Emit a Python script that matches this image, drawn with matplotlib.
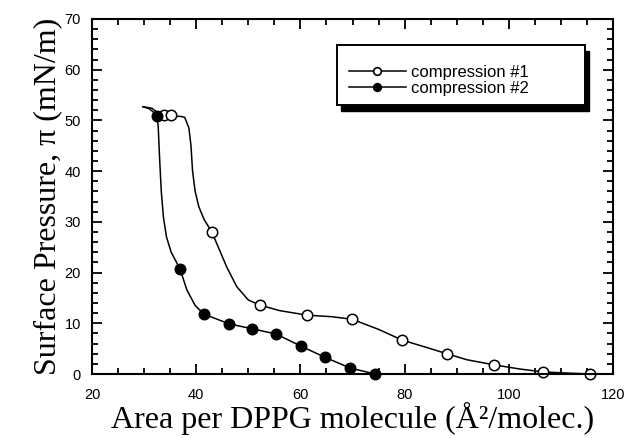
import matplotlib
matplotlib.use("Agg")
import matplotlib.pyplot as plt
from matplotlib.ticker import MultipleLocator
from matplotlib.patches import Rectangle

# Traced curve of compression #1 (open circles)
c1_line_x = [29.8, 31.5, 33.0, 35.0, 37.0, 37.8, 38.6, 39.0, 39.3, 39.8, 40.5, 41.5, 43.0,
             45.9, 47.8, 50.0, 52.2, 56.0, 61.3, 66.0, 69.9, 75.0, 79.5, 84.0, 88.1,
             92.0, 97.2, 102.0, 106.6, 111.0, 115.5]
c1_line_y = [52.7, 52.4, 51.2, 50.8, 50.8, 50.6, 48.5, 45.0, 40.0, 36.0, 33.0, 30.5, 28.0,
             21.0, 17.2, 14.6, 13.6, 12.5, 11.6, 11.3, 10.8, 8.8, 6.7, 5.3, 4.0,
             2.8, 1.8, 1.0, 0.4, 0.2, 0.0]
c1_mark_x = [33.8, 35.2, 43.0, 52.2, 61.3, 69.9, 79.5, 88.1, 97.2, 106.6, 115.5]
c1_mark_y = [51.1, 51.0, 28.0, 13.6, 11.6, 10.8, 6.7, 4.0, 1.8, 0.4, 0.0]

# Traced curve of compression #2 (filled circles)
c2_line_x = [29.8, 31.0, 32.3, 32.7, 33.0, 33.3, 33.7, 34.3, 35.2, 36.9, 38.2, 39.8, 41.5,
             46.3, 50.8, 55.3, 60.1, 64.7, 69.5, 74.3]
c2_line_y = [52.7, 52.3, 51.2, 49.0, 42.0, 36.0, 31.0, 27.0, 24.0, 20.7, 16.6, 13.5, 11.8,
             9.9, 8.9, 7.9, 5.5, 3.3, 1.2, 0.0]
c2_mark_x = [32.4, 36.9, 41.5, 46.3, 50.8, 55.3, 60.1, 64.7, 69.5, 74.3]
c2_mark_y = [50.8, 20.7, 11.8, 9.9, 8.9, 7.9, 5.5, 3.3, 1.2, 0.0]

labels = ["compression #1", "compression #2"]
xlabel = "Area per DPPG molecule (Å²/molec.)"
ylabel = "Surface Pressure, π (mN/m)"

sans = ["Liberation Sans", "DejaVu Sans"]
serif = ["Liberation Serif", "DejaVu Serif"]

fig = plt.figure(figsize=(6.33, 4.38), dpi=100)
ax = fig.add_axes([92 / 633, 1 - 374 / 438, 521 / 633, 355 / 438])

ms = 7.5
ax.plot(c1_line_x, c1_line_y, color="black", lw=1.1, clip_on=False)
ax.plot(c1_mark_x, c1_mark_y, "o", ms=ms, mfc="white", mec="black", mew=1.1, clip_on=False)
ax.plot(c2_line_x, c2_line_y, color="black", lw=1.1, clip_on=False)
ax.plot(c2_mark_x, c2_mark_y, "o", ms=ms, mfc="black", mec="black", mew=1.1, clip_on=False)

# legend box with solid drop shadow
fx0, fx1, fy0, fy1 = 0.470, 0.946, 0.757, 0.927
ax.add_patch(Rectangle((fx0 + 0.008, fy0 - 0.016), fx1 - fx0, fy1 - fy0,
                       transform=ax.transAxes, facecolor="black", edgecolor="black",
                       lw=1.0, zorder=5))
ax.add_patch(Rectangle((fx0, fy0), fx1 - fx0, fy1 - fy0, transform=ax.transAxes,
                       facecolor="white", edgecolor="black", lw=1.4, zorder=6))

h1, = ax.plot([], [], "-o", color="black", lw=1.1, ms=5.5, mfc="white", mec="black", mew=1.2)
h2, = ax.plot([], [], "-o", color="black", lw=1.1, ms=5.5, mfc="black", mec="black", mew=1.2)
leg = ax.legend([h1, h2], labels, loc="center left", bbox_to_anchor=(0.493, 0.827),
                prop={"family": sans, "size": 12}, frameon=False,
                handlelength=3.4, handletextpad=0.35, labelspacing=0.05,
                borderpad=0, borderaxespad=0)
leg.set_zorder(7)

ax.set_xlim(20, 120)
ax.set_ylim(0, 70)
ax.xaxis.set_major_locator(MultipleLocator(20))
ax.xaxis.set_minor_locator(MultipleLocator(5))
ax.yaxis.set_major_locator(MultipleLocator(10))
ax.yaxis.set_minor_locator(MultipleLocator(2))
ax.tick_params(which="both", direction="in", top=True, right=True, width=1.3)
ax.tick_params(which="major", length=7)
ax.tick_params(which="minor", length=4)
ax.tick_params(axis="x", which="major", pad=10)
ax.tick_params(axis="y", which="major", pad=8)
for lab in ax.get_xticklabels() + ax.get_yticklabels():
    lab.set_family(sans)
    lab.set_fontsize(10.5)
for s in ax.spines.values():
    s.set_linewidth(1.5)

ax.set_xlabel(xlabel, family=serif, fontsize=23, labelpad=0)
ax.set_ylabel(ylabel, family=serif, fontsize=23, labelpad=2)

fig.savefig("out.png", dpi=100)
